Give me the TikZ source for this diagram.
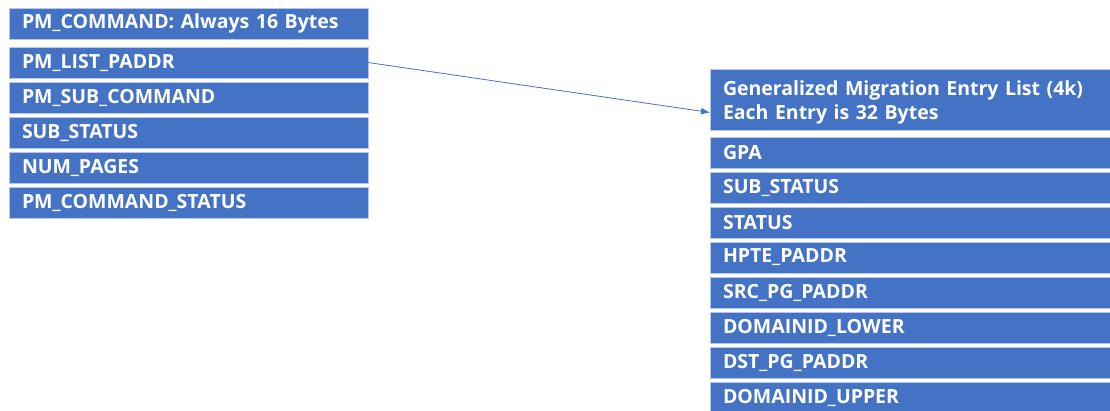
\documentclass[tikz,border=0pt]{standalone}
\usepackage{fontspec}
\setmainfont{Open Sans}
\usetikzlibrary{positioning,arrows.meta}

\definecolor{boxblue}{HTML}{4472C4}
\definecolor{boxedge}{HTML}{B4C7E7}

\tikzset{
  field/.style={draw=boxedge, line width=0.8pt, fill=boxblue, text=white,
    font=\bfseries\fontsize{19.5}{24}\selectfont, align=left,
    inner xsep=13pt, inner ysep=0pt, outer sep=0pt},
  cmdfield/.style={field, text width=333pt, minimum height=31pt},
  listfield/.style={field, text width=374pt, minimum height=31pt},
  link/.style={draw=boxblue, line width=0.8pt, -{Latex[length=9pt,width=7pt]}}
}

\begin{document}
\begin{tikzpicture}[x=1pt,y=-1pt]
  \clip (0,0) rectangle (1110,411);

  % PM_COMMAND block
  \node[cmdfield, anchor=north west] (cmd) at (9,8) {PM\_COMMAND: Always 16 Bytes};
  \node[cmdfield, below=8pt of cmd] (paddr) {PM\_LIST\_PADDR};
  \node[cmdfield, below=4pt of paddr] (subcmd) {PM\_SUB\_COMMAND};
  \node[cmdfield, below=4pt of subcmd] (substat) {SUB\_STATUS};
  \node[cmdfield, below=4pt of substat] (npages) {NUM\_PAGES};
  \node[cmdfield, below=4pt of npages] (cmdstat) {PM\_COMMAND\_STATUS};

  % migration entry list
  \node[listfield, anchor=north west, minimum height=61pt, text depth=23pt] (hdr) at (710,69)
    {Generalized Migration Entry List (4k)\\Each Entry is 32 Bytes};
  \node[listfield, below=7pt of hdr] (gpa) {GPA};
  \node[listfield, below=4pt of gpa] (esub) {SUB\_STATUS};
  \node[listfield, below=4pt of esub] (estat) {STATUS};
  \node[listfield, below=4pt of estat] (hpte) {HPTE\_PADDR};
  \node[listfield, below=4pt of hpte] (src) {SRC\_PG\_PADDR};
  \node[listfield, below=4pt of src] (dlow) {DOMAINID\_LOWER};
  \node[listfield, below=4pt of dlow] (dst) {DST\_PG\_PADDR};
  \node[listfield, below=4pt of dst] (dup) {DOMAINID\_UPPER};

  \draw[link] (paddr.east) -- ([yshift=-13pt]hdr.west);
\end{tikzpicture}
\end{document}
